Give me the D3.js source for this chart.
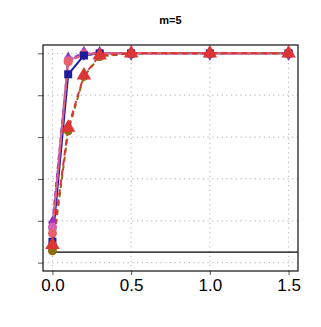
<!DOCTYPE html>
<html>
<head>
<meta charset="utf-8">
<script src="https://cdn.jsdelivr.net/npm/d3@7"></script>
<style>
  html, body { margin: 0; padding: 0; background: #fff; }
  svg { display: block; }
</style>
</head>
<body>
<svg id="chart" width="321" height="327"></svg>
<script>
const title = 'm=5';
const deltas = [0, 0.1, 0.2, 0.3, 0.5, 1.0, 1.5];
const xTicks = [0, 0.5, 1.0, 1.5];
const yTicks = [0, 0.2, 0.4, 0.6, 0.8, 1.0];
const alphaLevel = 0.05;

const steelDiamond = [0.16, 0.975, 1, 1, 1, 1, 1];
const purpleDiamond = [0.19, 0.97, 1, 1, 1, 1, 1];
const orchidCircle = [0.17, 0.965, 0.998, 1, 1, 1, 1];
const salmonCircle = [0.14, 0.96, 0.995, 1, 1, 1, 1];
const oliveCircle = [0.057, 0.63, 0.89, 0.985, 1, 1, 1];
const navySquare = [0.10, 0.90, 0.99, 1, 1, 1, 1];
const redTriangle = [0.085, 0.645, 0.895, 0.99, 1, 1, 1];

const margin = { top: 45, right: 23, bottom: 56, left: 43 };
const width = 321, height = 327;

const svg = d3.select('#chart');

const x = d3.scaleLinear()
  .domain([-0.06, 1.56])
  .range([margin.left, width - margin.right]);
const y = d3.scaleLinear()
  .domain([-0.04, 1.04])
  .range([height - margin.bottom, margin.top]);

// grid
const grid = svg.append('g')
  .attr('stroke', '#bdbdbd')
  .attr('stroke-width', 1.2)
  .attr('stroke-dasharray', '1.2,3.5');
grid.selectAll('line.gx')
  .data(xTicks)
  .enter().append('line')
  .attr('x1', d => x(d)).attr('x2', d => x(d))
  .attr('y1', y.range()[0]).attr('y2', y.range()[1]);
grid.selectAll('line.gy')
  .data(yTicks)
  .enter().append('line')
  .attr('y1', d => y(d)).attr('y2', d => y(d))
  .attr('x1', x.range()[0]).attr('x2', x.range()[1]);

// reference level
svg.append('line')
  .attr('x1', x(0)).attr('x2', x.range()[1])
  .attr('y1', y(alphaLevel)).attr('y2', y(alphaLevel))
  .attr('stroke', '#000')
  .attr('stroke-width', 1.3);

// marker order, bottom to top
const series = [
  { name: 'steel', values: steelDiamond, color: '#7d93b5', shape: d3.symbolDiamond, dash: '5,4' },
  { name: 'purple', values: purpleDiamond, color: '#9a2fc0', shape: d3.symbolDiamond, dash: '5,4' },
  { name: 'orchid', values: orchidCircle, color: '#d45fb4', shape: d3.symbolCircle, dash: '5,4' },
  { name: 'olive', values: oliveCircle, color: '#8e6d10', shape: d3.symbolCircle, dash: '5,4' },
  { name: 'salmon', values: salmonCircle, color: '#e8606c', shape: d3.symbolCircle, dash: '6,3' },
  { name: 'navy', values: navySquare, color: '#1c1c9a', shape: d3.symbolSquare, dash: null },
  { name: 'red', values: redTriangle, color: '#dd3535', shape: d3.symbolTriangle, dash: '6,4' }
];

const line = d3.line()
  .x((d, i) => x(deltas[i]))
  .y(d => y(d));

// solid line underneath, dashed ones over it
const lineOrder = series.filter(s => !s.dash).concat(series.filter(s => s.dash));

svg.append('g').selectAll('path')
  .data(lineOrder)
  .enter().append('path')
  .attr('d', s => line(s.values))
  .attr('fill', 'none')
  .attr('stroke', s => s.color)
  .attr('stroke-width', 2)
  .attr('stroke-dasharray', s => s.dash);

const points = svg.append('g');
series.forEach(function (s) {
  points.append('g')
    .attr('class', 'pts-' + s.name)
    .selectAll('path')
    .data(s.values)
    .enter().append('path')
    .attr('transform', (d, i) => 'translate(' + x(deltas[i]) + ',' + y(d) + ')')
    .attr('d', d3.symbol().type(s.shape).size(s.shape === d3.symbolTriangle ? 90 : 64))
    .attr('fill', s.color);
});

// axes
const xAxis = svg.append('g')
  .attr('transform', 'translate(0,' + y.range()[0] + ')')
  .call(d3.axisBottom(x).tickValues(xTicks).tickSize(4).tickPadding(4)
    .tickFormat(d3.format('.1f')));
xAxis.select('.domain').remove();
xAxis.selectAll('line').attr('stroke', '#555');
xAxis.selectAll('text')
  .attr('font-family', '"Liberation Sans", Arial, sans-serif')
  .attr('font-size', 17)
  .attr('fill', '#000');

const yAxis = svg.append('g')
  .attr('transform', 'translate(' + x.range()[0] + ',0)')
  .call(d3.axisLeft(y).tickValues(yTicks).tickSize(5).tickFormat(''));
yAxis.select('.domain').remove();
yAxis.selectAll('line').attr('stroke', '#555');

// box
svg.append('rect')
  .attr('x', x.range()[0])
  .attr('y', y.range()[1])
  .attr('width', x.range()[1] - x.range()[0])
  .attr('height', y.range()[0] - y.range()[1])
  .attr('fill', 'none')
  .attr('stroke', '#222')
  .attr('stroke-width', 1.3);

svg.append('text')
  .attr('x', (x.range()[0] + x.range()[1]) / 2)
  .attr('y', 24)
  .attr('text-anchor', 'middle')
  .attr('font-family', '"Liberation Sans", Arial, sans-serif')
  .attr('font-weight', 'bold')
  .attr('font-size', 11)
  .text(title);
</script>
</body>
</html>
